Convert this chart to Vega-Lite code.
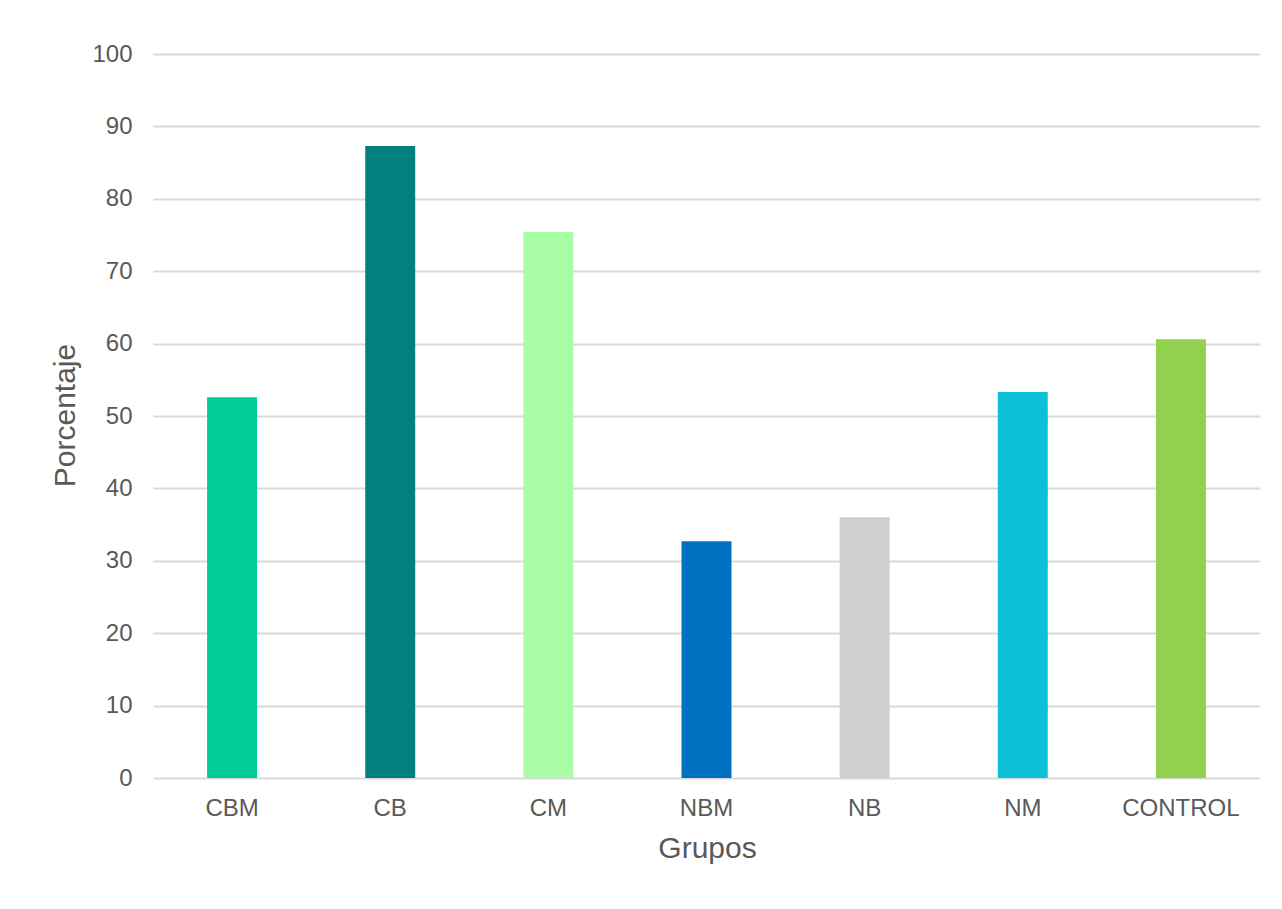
{
  "$schema": "https://vega.github.io/schema/vega-lite/v6.json",
  "width": 1107,
  "height": 724,
  "autosize": {"type": "none"},
  "padding": {"left": 153, "top": 54, "right": 22, "bottom": 131},
  "background": "white",
  "data": {
    "values": [
      {"grupo": "CBM", "porcentaje": 52.6},
      {"grupo": "CB", "porcentaje": 87.3},
      {"grupo": "CM", "porcentaje": 75.4},
      {"grupo": "NBM", "porcentaje": 32.7},
      {"grupo": "NB", "porcentaje": 36.0},
      {"grupo": "NM", "porcentaje": 53.3},
      {"grupo": "CONTROL", "porcentaje": 60.6}
    ]
  },
  "mark": {"type": "bar"},
  "encoding": {
    "x": {
      "field": "grupo",
      "type": "nominal",
      "sort": null,
      "scale": {"paddingInner": 0.684, "paddingOuter": 0.342},
      "axis": {
        "title": "Grupos",
        "labelAngle": 0,
        "labelFont": "Liberation Sans",
        "labelFontSize": 24,
        "labelColor": "#595959",
        "labelBaseline": "alphabetic",
        "labelPadding": 37,
        "ticks": false,
        "tickSize": 0,
        "domain": false,
        "titleFont": "Liberation Sans",
        "titleFontSize": 30,
        "titleFontWeight": "normal",
        "titleColor": "#595959",
        "titleBaseline": "alphabetic",
        "titleY": 79,
        "titleX": 554
      }
    },
    "y": {
      "field": "porcentaje",
      "type": "quantitative",
      "scale": {"domain": [0, 100]},
      "axis": {
        "title": "Porcentaje",
        "values": [0, 10, 20, 30, 40, 50, 60, 70, 80, 90, 100],
        "labelFont": "Liberation Sans",
        "labelFontSize": 24,
        "labelColor": "#595959",
        "labelPadding": 21,
        "ticks": false,
        "tickSize": 0,
        "domain": false,
        "grid": true,
        "gridColor": "#D9D9D9",
        "gridWidth": 2,
        "titleFont": "Liberation Sans",
        "titleFontSize": 30,
        "titleFontWeight": "normal",
        "titleColor": "#595959",
        "titleAngle": -90,
        "titleAlign": "center",
        "titleBaseline": "alphabetic",
        "titleX": -79,
        "titleY": 361
      }
    },
    "color": {
      "field": "grupo",
      "type": "nominal",
      "scale": {
        "domain": ["CBM", "CB", "CM", "NBM", "NB", "NM", "CONTROL"],
        "range": ["#00CC99", "#008080", "#AAFFA6", "#0070C0", "#D0CECE", "#0CC0D8", "#92D050"]
      },
      "legend": null
    }
  },
  "config": {"view": {"stroke": null}}
}
